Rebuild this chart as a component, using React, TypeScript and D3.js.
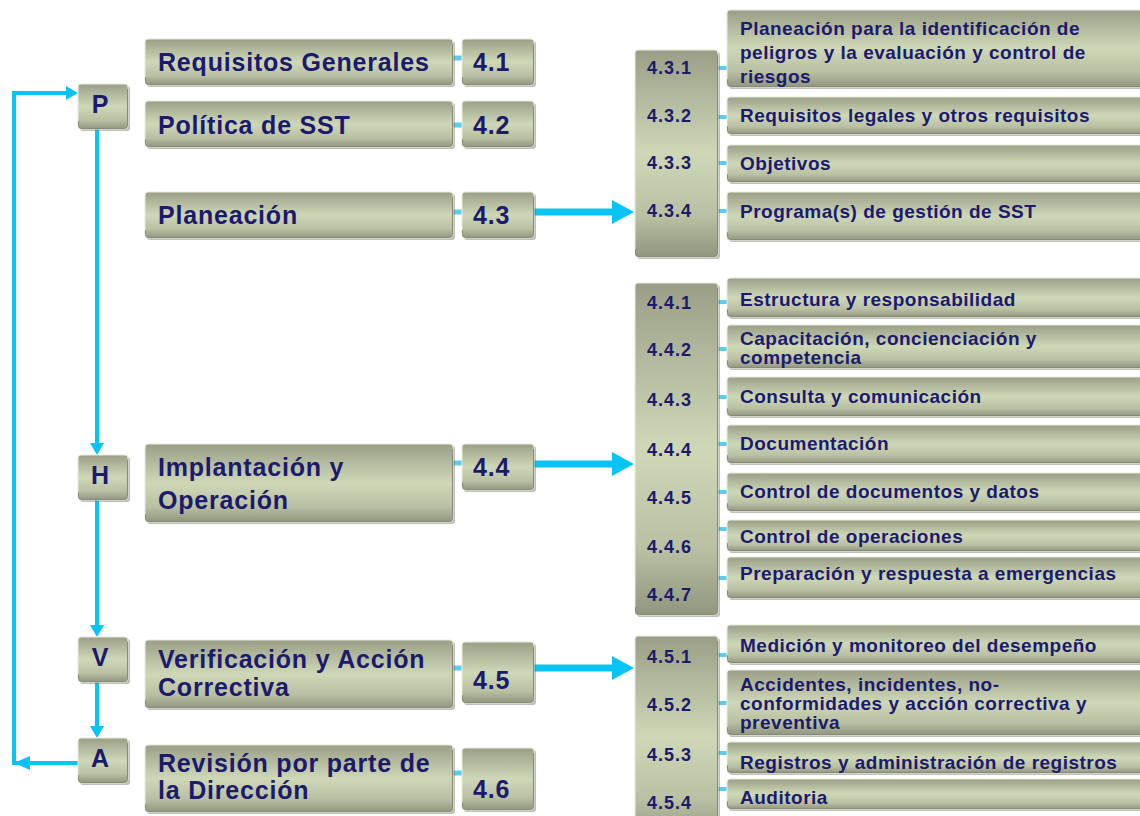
import React from "react";
import * as d3 from "d3";

// ---------------- DATA ----------------
const phases = ["P", "H", "V", "A"];
const mainCodes = ["4.1", "4.2", "4.3", "4.4", "4.5", "4.6"];
const mainTitles = [
  ["Requisitos Generales"],
  ["Política de SST"],
  ["Planeación"],
  ["Implantación y", "Operación"],
  ["Verificación y Acción", "Correctiva"],
  ["Revisión por parte de", "la Dirección"],
];
const codes43 = ["4.3.1", "4.3.2", "4.3.3", "4.3.4"];
const items43 = [
  ["Planeación para la identificación de", "peligros y la evaluación y control de", "riesgos"],
  ["Requisitos legales y otros requisitos"],
  ["Objetivos"],
  ["Programa(s) de gestión de SST"],
];
const codes44 = ["4.4.1", "4.4.2", "4.4.3", "4.4.4", "4.4.5", "4.4.6", "4.4.7"];
const items44 = [
  ["Estructura y responsabilidad"],
  ["Capacitación, concienciación y", "competencia"],
  ["Consulta y comunicación"],
  ["Documentación"],
  ["Control de documentos y datos"],
  ["Control de operaciones"],
  ["Preparación y respuesta a emergencias"],
];
const codes45 = ["4.5.1", "4.5.2", "4.5.3", "4.5.4"];
const items45 = [
  ["Medición y monitoreo del desempeño"],
  ["Accidentes, incidentes, no-", "conformidades y acción correctiva y", "preventiva"],
  ["Registros y administración de registros"],
  ["Auditoria"],
];

// ---------------- LAYOUT ----------------
const W = 1140;
const H = 816;
const TEXT = "#1b1a6c";
const BLUE = "#08c3f6";
const DASH = "#5ccbf2";
const FONT = "'Liberation Sans', Arial, sans-serif";

const phaseLayout = { x: 78, w: 50, h: 45, tops: [84, 455, 637, 738], lineX: 97, loopX: 14 };
const titleLayout = {
  x: 145, w: 308,
  tops: [39, 101, 192, 444, 640, 745],
  heights: [46, 46, 46, 78, 68, 67],
  lineCenters: [[62], [125], [215], [467, 500], [659, 687], [763, 790]],
};
const codeLayout = {
  x: 462, w: 72,
  tops: [39, 101, 192, 444, 642, 748],
  heights: [46, 46, 46, 46, 61, 62],
  centers: [62, 125, 215, 467, 680, 789],
  dashY: [58, 125, 212, 463, 668, 773],
};
const arrowTargets = [
  { from: 2, y: 212 },
  { from: 3, y: 464 },
  { from: 4, y: 668 },
];

const groups = [
  {
    codes: codes43, items: items43,
    colTop: 50, colBottom: 257,
    codeCenters: [68, 116, 163, 211],
    dashY: [68, 117, 163, 211],
    boxes: [[10, 87], [97, 134], [145, 182], [192, 240]],
    textCenters: [[28, 52, 76], [115], [163], [211]],
  },
  {
    codes: codes44, items: items44,
    colTop: 283, colBottom: 615,
    codeCenters: [303, 350, 400, 450, 498, 547, 595],
    dashY: [302, 349, 397, 444, 492, 529, 578],
    boxes: [[278, 317], [325, 368], [377, 416], [425, 463], [473, 511], [520, 551], [557, 598]],
    textCenters: [[299], [338, 357], [396], [443], [491], [536], [573]],
  },
  {
    codes: codes45, items: items45,
    colTop: 636, colBottom: 840,
    codeCenters: [657, 705, 755, 803],
    dashY: [655, 703, 753, 789],
    boxes: [[625, 663], [670, 735], [742, 773], [779, 809]],
    textCenters: [[645], [684, 703, 722], [762], [797]],
  },
];
const colX = 635, colW = 83, itemX = 727, itemW = 440;

const line = d3.line<[number, number]>();

function Box({ x, y, w, h }: { x: number; y: number; w: number; h: number }) {
  return (
    <g>
      <rect x={x + 2} y={y + 2} width={w} height={h} rx={3} fill="#6e7262" opacity={0.45} />
      <rect x={x} y={y} width={w} height={h} rx={3} fill="url(#boxGrad)" stroke="#e9ecdc" strokeWidth={1} />
      <rect x={x + 0.5} y={y + 0.5} width={w - 1} height={h - 1} rx={3} fill="none" stroke="#868a76" strokeWidth={1} strokeDasharray={`0 ${w - 1} ${h - 1 + w - 1} ${h}`} />
    </g>
  );
}

function Txt({ x, cy, size, children, anchor = "start", ls = 0 }: any) {
  return (
    <text x={x} y={cy + size * 0.35} fontSize={size} fontWeight="bold" fontFamily={FONT} fill={TEXT} textAnchor={anchor} letterSpacing={ls}>
      {children}
    </text>
  );
}

function ArrowHead({ tip, dir, len, half, color }: { tip: [number, number]; dir: "r" | "l" | "d"; len: number; half: number; color: string }) {
  const [tx, ty] = tip;
  let pts: [number, number][];
  if (dir === "r") pts = [[tx, ty], [tx - len, ty - half], [tx - len, ty + half]];
  else if (dir === "l") pts = [[tx, ty], [tx + len, ty - half], [tx + len, ty + half]];
  else pts = [[tx, ty], [tx - half, ty - len], [tx + half, ty - len]];
  return <path d={line(pts) + "Z"} fill={color} />;
}

export default function App() {
  const p = phaseLayout;
  const phaseBottoms = p.tops.map((t) => t + p.h);
  const loopTopY = 93;
  const loopBotY = 763;
  return (
    <div style={{ position: "absolute", left: 0, top: 0 }}>
      <svg width={W} height={H} style={{ display: "block", background: "#fff" }}>
        <defs>
          <linearGradient id="boxGrad" x1="0" y1="0" x2="0" y2="1">
            <stop offset="0" stopColor="#9a9e86" />
            <stop offset="0.15" stopColor="#aab096" />
            <stop offset="0.5" stopColor="#ced8b7" />
            <stop offset="0.8" stopColor="#b9c0a3" />
            <stop offset="1" stopColor="#91967f" />
          </linearGradient>
        </defs>

        {/* PHVA loop lines */}
        <path d={line([[p.x - 10, loopTopY], [p.loopX, loopTopY], [p.loopX, loopBotY], [p.loopX + 14, loopBotY]])!} fill="none" stroke={BLUE} strokeWidth={4} />
        <path d={line([[p.x, loopBotY], [p.loopX + 14, loopBotY]])!} fill="none" stroke={BLUE} strokeWidth={4} />
        <ArrowHead tip={[p.x, loopTopY]} dir="r" len={12} half={7} color={BLUE} />
        <ArrowHead tip={[p.loopX, loopBotY]} dir="l" len={16} half={7} color={BLUE} />
        {[0, 1, 2].map((i) => (
          <g key={"pv" + i}>
            <path d={line([[p.lineX, phaseBottoms[i]], [p.lineX, p.tops[i + 1] - 10]])!} stroke={BLUE} strokeWidth={4} fill="none" />
            <ArrowHead tip={[p.lineX, p.tops[i + 1]]} dir="d" len={12} half={7} color={BLUE} />
          </g>
        ))}

        {/* PHVA boxes */}
        {phases.map((ph, i) => (
          <g key={ph}>
            <Box x={p.x} y={p.tops[i]} w={p.w} h={p.h} />
            <Txt x={p.x + p.w / 2 - 3} cy={p.tops[i] + p.h / 2 - 2} size={25} anchor="middle">{ph}</Txt>
          </g>
        ))}

        {/* Title-code connector dashes */}
        {codeLayout.dashY.map((y, i) => (
          <path key={"d" + i} d={line([[titleLayout.x + titleLayout.w, y], [codeLayout.x, y]])!} stroke={DASH} strokeWidth={5} />
        ))}

        {/* Big arrows */}
        {arrowTargets.map((a, i) => (
          <g key={"ba" + i}>
            <path d={line([[codeLayout.x + codeLayout.w, a.y], [colX - 18, a.y]])!} stroke={BLUE} strokeWidth={7} />
            <ArrowHead tip={[colX - 1, a.y]} dir="r" len={22} half={12} color={BLUE} />
          </g>
        ))}

        {/* Title boxes */}
        {mainTitles.map((lines, i) => (
          <g key={"t" + i}>
            <Box x={titleLayout.x} y={titleLayout.tops[i]} w={titleLayout.w} h={titleLayout.heights[i]} />
            {lines.map((l, j) => (
              <Txt key={j} x={titleLayout.x + 13} cy={titleLayout.lineCenters[i][j]} size={25} ls={0.8}>{l}</Txt>
            ))}
          </g>
        ))}

        {/* Code boxes */}
        {mainCodes.map((c, i) => (
          <g key={"c" + i}>
            <Box x={codeLayout.x} y={codeLayout.tops[i]} w={codeLayout.w} h={codeLayout.heights[i]} />
            <Txt x={codeLayout.x + 11} cy={codeLayout.centers[i]} size={25} ls={0.8}>{c}</Txt>
          </g>
        ))}

        {/* Right groups */}
        {groups.map((g, gi) => (
          <g key={"g" + gi}>
            {g.dashY.map((y, i) => (
              <path key={"gd" + i} d={line([[colX + colW, y], [itemX, y]])!} stroke={DASH} strokeWidth={4} />
            ))}
            <Box x={colX} y={g.colTop} w={colW} h={g.colBottom - g.colTop} />
            {g.codes.map((c, i) => (
              <Txt key={c} x={colX + 12} cy={g.codeCenters[i]} size={18} ls={1}>{c}</Txt>
            ))}
            {g.items.map((lines, i) => (
              <g key={"it" + i}>
                <Box x={itemX} y={g.boxes[i][0]} w={itemW} h={g.boxes[i][1] - g.boxes[i][0]} />
                {lines.map((l, j) => (
                  <Txt key={j} x={itemX + 13} cy={g.textCenters[i][j]} size={19} ls={0.5}>{l}</Txt>
                ))}
              </g>
            ))}
          </g>
        ))}
      </svg>
    </div>
  );
}
